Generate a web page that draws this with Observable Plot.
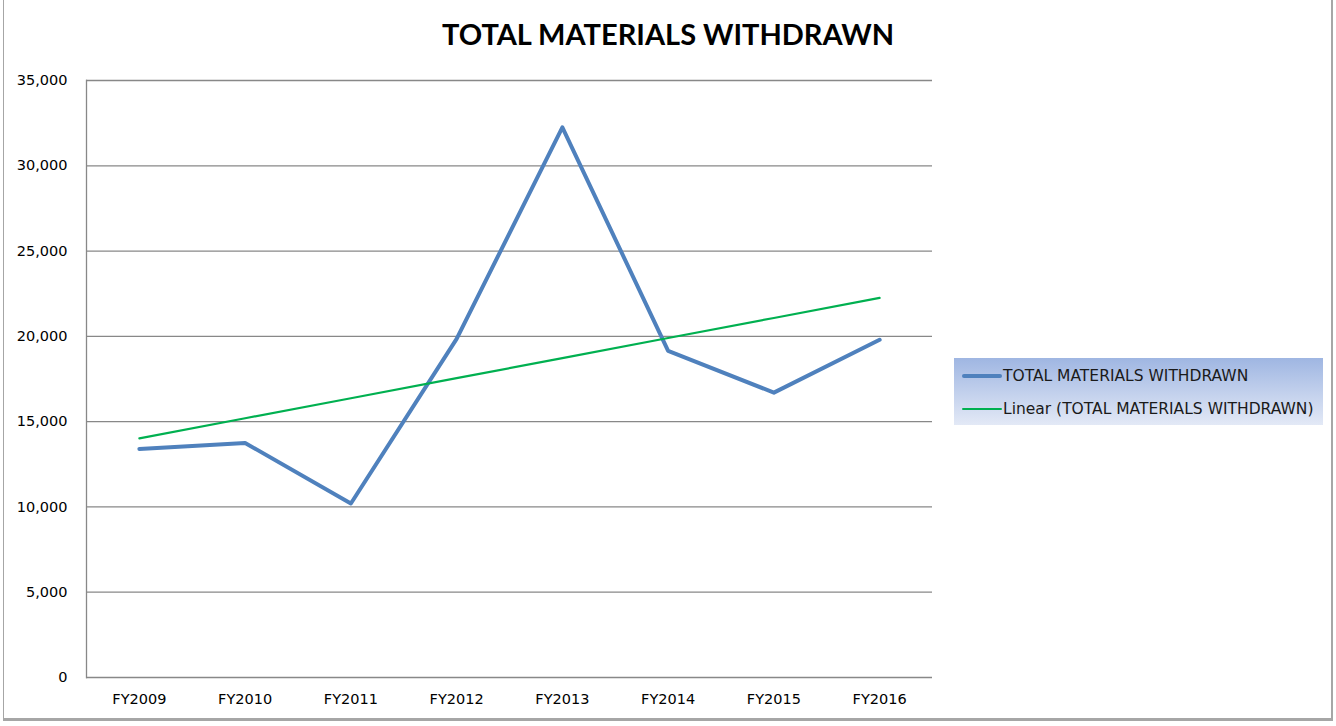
<!DOCTYPE html>
<html>
<head>
<meta charset="utf-8">
<script src="https://cdn.jsdelivr.net/npm/d3@7"></script>
<script src="https://cdn.jsdelivr.net/npm/@observablehq/plot@0.6"></script>
<style>
  html, body { margin: 0; padding: 0; background: #fff; }
  #wrap { position: relative; width: 1336px; height: 726px; overflow: hidden; font-family: "DejaVu Sans", sans-serif; }
  #frame { position: absolute; left: 3px; top: -2px; width: 1330px; height: 723px; border-left: 1px solid #a6a6a6; border-right: 2px solid #a6a6a6; border-bottom: 3px solid #a6a6a6; box-sizing: border-box; pointer-events: none; }
  #title { position: absolute; left: 0; width: 1336px; top: 16px; text-align: center; font-family: Lato, "Open Sans", sans-serif; font-weight: 700; font-size: 29px; color: #000; }
  #legend { position: absolute; left: 954px; top: 358px; width: 369px; height: 67px; background: linear-gradient(#9fb6e2, #e3e9f6); font-family: "DejaVu Sans", sans-serif; font-size: 15.5px; color: #1a1a1a; }
  .item { position: absolute; left: 8px; display: flex; align-items: center; white-space: nowrap; }
  .sw { width: 40px; margin-right: 1px; }
</style>
</head>
<body>
<div id="wrap">
  <div id="chart"></div>
  <div id="title"></div>
  <div id="legend"></div>
  <div id="frame"></div>
</div>
<script>
const title = "TOTAL MATERIALS WITHDRAWN";
const years = ["FY2009", "FY2010", "FY2011", "FY2012", "FY2013", "FY2014", "FY2015", "FY2016"];
const withdrawn = [13400, 13750, 10200, 19850, 32250, 19150, 16700, 19800];
const yTicks = [0, 5000, 10000, 15000, 20000, 25000, 30000, 35000];
const seriesName = "TOTAL MATERIALS WITHDRAWN";
const trendName = "Linear (TOTAL MATERIALS WITHDRAWN)";
const blue = "#4f81bd";
const green = "#00b050";

const data = years.map((y, i) => ({year: y, value: withdrawn[i], i: i + 1}));
// least-squares linear trend over category index (as Excel's "Linear" trendline)
const mx = d3.mean(data, d => d.i), my = d3.mean(data, d => d.value);
const slope = d3.sum(data, d => (d.i - mx) * (d.value - my)) / d3.sum(data, d => (d.i - mx) ** 2);
const trend = data.map(d => ({year: d.year, value: my + slope * (d.i - mx)}));

document.getElementById("title").textContent = title;

const chart = Plot.plot({
  width: 1336,
  height: 726,
  marginLeft: 86,
  marginRight: 404,
  marginTop: 80,
  marginBottom: 49,
  style: {fontFamily: "DejaVu Sans, sans-serif", fontSize: "14.5px", color: "#000", background: "transparent"},
  x: {type: "point", domain: years, padding: 0.5, round: false, label: null},
  y: {domain: [0, 35000], label: null},
  marks: [
    Plot.ruleY(yTicks, {stroke: "#888", strokeWidth: 1.3}),
    Plot.frame({anchor: "left", stroke: "#888", strokeWidth: 1.3}),
    Plot.axisX({tickSize: 0, tickPadding: 16, fontSize: 14.5}),
    Plot.axisY({ticks: yTicks, tickFormat: d3.format(","), tickSize: 0, tickPadding: 19, fontSize: 14.5}),
    Plot.line(data, {x: "year", y: "value", stroke: blue, strokeWidth: 4, strokeLinejoin: "round", strokeLinecap: "round"}),
    Plot.line(trend, {x: "year", y: "value", stroke: green, strokeWidth: 2.2})
  ]
});
document.getElementById("chart").appendChild(chart);

const legend = document.getElementById("legend");
[[seriesName, blue, 4, 18], [trendName, green, 2, 51]].forEach(([name, color, w, top]) => {
  const it = document.createElement("div");
  it.className = "item";
  it.style.top = (top - 10) + "px";
  it.style.height = "20px";
  const sw = document.createElement("div");
  sw.className = "sw";
  sw.style.height = w + "px";
  sw.style.background = color;
  sw.style.borderRadius = "2px";
  const tx = document.createElement("span");
  tx.textContent = name;
  it.appendChild(sw);
  it.appendChild(tx);
  legend.appendChild(it);
});
</script>
</body>
</html>
